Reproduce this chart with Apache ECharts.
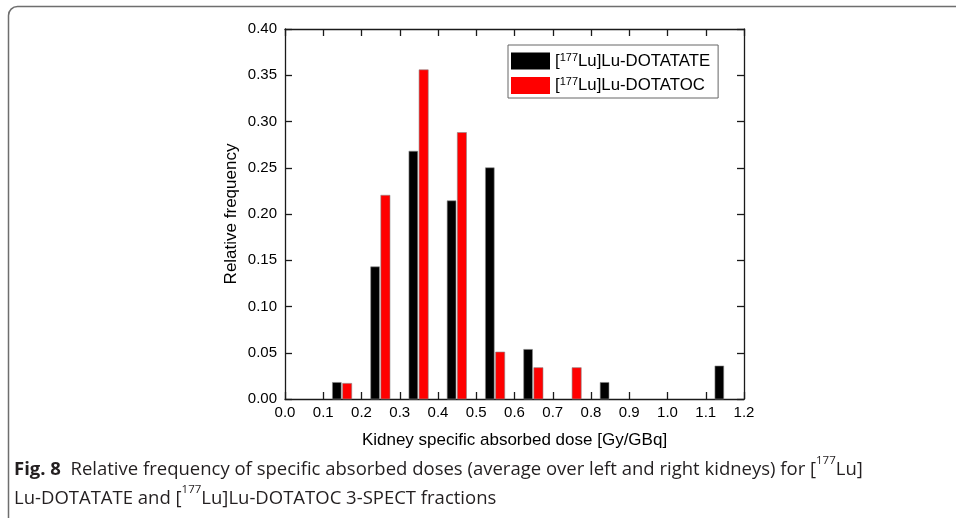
<!DOCTYPE html>
<html>
<head>
<meta charset="utf-8">
<style>
  html, body { margin: 0; padding: 0; background: #fff; }
  #chart { width: 956px; height: 518px; }
</style>
<script src="https://cdn.jsdelivr.net/npm/echarts@6/dist/echarts.min.js"></script>
</head>
<body>
<div id="chart"></div>
<script>
// Bin centres (Gy/GBq) and relative frequencies
const dotatateBins = [0.15, 0.25, 0.35, 0.45, 0.55, 0.65, 0.85, 1.15];
const dotatateFreq = [0.0179, 0.1429, 0.2679, 0.2143, 0.25, 0.0536, 0.0179, 0.0357];
const dotatocBins = [0.15, 0.25, 0.35, 0.45, 0.55, 0.65, 0.75];
const dotatocFreq = [0.0169, 0.2203, 0.3559, 0.2881, 0.0508, 0.0339, 0.0339];
const seriesNames = ['DOTATATE', 'DOTATOC'];
const xTicks = { min: 0, max: 1.2, interval: 0.1 };
const yTicks = { min: 0, max: 0.4, interval: 0.05 };

const AX = '#1a1a1a';
const chart = echarts.init(document.getElementById('chart'), null, { renderer: 'canvas' });

function makeRender(a, b, fill) {
  return function (params, api) {
    const x = api.value(0), y = api.value(1);
    const p0 = api.coord([x + a, y]);
    const p1 = api.coord([x + b, 0]);
    return {
      type: 'rect',
      shape: { x: p0[0], y: p0[1], width: p1[0] - p0[0], height: p1[1] - p0[1] },
      style: { fill: fill, stroke: '#8a8a8a', lineWidth: 0.6 }
    };
  };
}

const baseX = {
  type: 'value', min: xTicks.min, max: xTicks.max, interval: xTicks.interval,
  axisLine: { show: true, onZero: false, lineStyle: { color: AX, width: 1.3 } },
  axisTick: { show: true, inside: true, length: 7, lineStyle: { color: AX, width: 1.3 } },
  splitLine: { show: false }
};
const baseY = {
  type: 'value', min: yTicks.min, max: yTicks.max, interval: yTicks.interval,
  axisLine: { show: true, onZero: false, lineStyle: { color: AX, width: 1.3 } },
  axisTick: { show: true, inside: true, length: 7, lineStyle: { color: AX, width: 1.3 } },
  splitLine: { show: false }
};

const legendRich = {
  sup: { fontSize: 11, fontFamily: 'Liberation Sans', color: '#000', verticalAlign: 'top', lineHeight: 18 },
  t: { fontSize: 16.8, fontFamily: 'Liberation Sans', color: '#000', lineHeight: 18 }
};
const CF = 'Open Sans';
const capRich = {
  b: { fontFamily: CF, fontWeight: 'bold', fontSize: 18.5, fill: '#231f20', lineHeight: 29 },
  t: { fontFamily: CF, fontSize: 18.5, fill: '#231f20', lineHeight: 29 },
  s: { fontFamily: CF, fontSize: 11.5, fill: '#231f20', lineHeight: 29, verticalAlign: 'top' }
};

chart.setOption({
  animation: false,
  grid: { left: 285, top: 29, right: 212, bottom: 119 },
  legend: {
    left: 508, top: 45, orient: 'vertical',
    itemWidth: 39, itemHeight: 17, itemGap: 7,
    padding: [7, 8, 4, 3],
    borderColor: '#666', borderWidth: 1,
    icon: 'rect',
    data: seriesNames,
    formatter: function (name) { return '{t|[}{sup|177}{t|Lu]Lu-' + name + '}'; },
    textStyle: { rich: legendRich, fontSize: 16.8, fontFamily: 'Liberation Sans', color: '#000' }
  },
  xAxis: [
    Object.assign({}, baseX, {
      position: 'bottom',
      name: 'Kidney specific absorbed dose [Gy/GBq]', nameLocation: 'middle', nameGap: 33,
      nameTextStyle: { fontFamily: 'Liberation Sans', fontSize: 17, color: '#000' },
      axisLabel: { margin: 6, fontFamily: 'Liberation Sans', fontSize: 15, color: '#000',
        formatter: function (v) { return v.toFixed(1); } }
    }),
    Object.assign({}, baseX, { position: 'top', axisLabel: { show: false } })
  ],
  yAxis: [
    Object.assign({}, baseY, {
      position: 'left',
      name: 'Relative frequency', nameLocation: 'middle', nameGap: 45,
      nameTextStyle: { fontFamily: 'Liberation Sans', fontSize: 17, color: '#000' },
      axisLabel: { margin: 8, fontFamily: 'Liberation Sans', fontSize: 15, color: '#000',
        formatter: function (v) { return v.toFixed(2); } }
    }),
    Object.assign({}, baseY, { position: 'right', axisLabel: { show: false } })
  ],
  series: [
    {
      name: seriesNames[0], type: 'custom', xAxisIndex: 0, yAxisIndex: 0,
      itemStyle: { color: '#000' },
      renderItem: makeRender(-0.026, -0.003, '#000'),
      data: dotatateBins.map((b, i) => [b, dotatateFreq[i]])
    },
    {
      name: seriesNames[1], type: 'custom', xAxisIndex: 0, yAxisIndex: 0,
      itemStyle: { color: '#ff0000' },
      renderItem: makeRender(0.0005, 0.0245, '#ff0000'),
      data: dotatocBins.map((b, i) => [b, dotatocFreq[i]])
    }
  ],
  graphic: [
    {
      type: 'rect', silent: true,
      shape: { x: 8.5, y: 6.5, width: 1000, height: 600, r: 9 },
      style: { fill: 'none', stroke: '#6e6e6e', lineWidth: 1.5 }
    },
    {
      type: 'text', left: 14, top: 455, silent: true,
      style: {
        text: '{b|Fig. 8}{t|  Relative frequency of specific absorbed doses (average over left and right kidneys) for [}{s|177}{t|Lu]}\n{t|Lu-DOTATATE and [}{s|177}{t|Lu]Lu-DOTATOC 3-SPECT fractions}',
        rich: capRich
      }
    }
  ]
});
</script>
</body>
</html>
